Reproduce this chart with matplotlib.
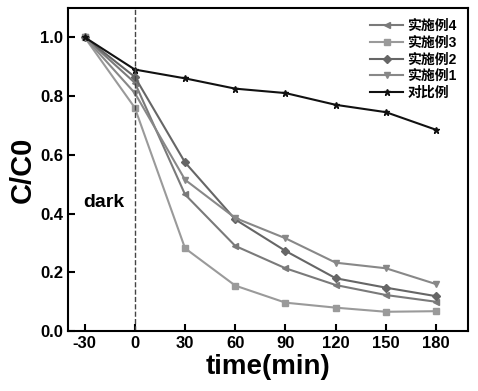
import matplotlib
matplotlib.use("Agg")
import matplotlib.pyplot as plt

plt.rcParams['font.family'] = ['Liberation Sans', 'Noto Sans CJK SC', 'DejaVu Sans']
plt.rcParams['font.weight'] = 'bold'
plt.rcParams['axes.unicode_minus'] = False

# 时间 (min)
t = [-30, 0, 30, 60, 90, 120, 150, 180]
# C/C0
ex4 = [1.0, 0.845, 0.465, 0.29, 0.214, 0.157, 0.123, 0.10]
ex3 = [1.0, 0.76, 0.282, 0.155, 0.097, 0.08, 0.066, 0.068]
ex2 = [1.0, 0.865, 0.574, 0.38, 0.273, 0.18, 0.148, 0.119]
ex1 = [1.0, 0.81, 0.515, 0.385, 0.316, 0.233, 0.214, 0.16]
ctrl = [1.0, 0.89, 0.86, 0.825, 0.81, 0.77, 0.745, 0.685]

fig = plt.figure(figsize=(4.78, 3.91), dpi=100)
ax = fig.add_axes([0.142, 0.153, 0.837, 0.827])

ax.plot(t, ex4, '-', marker='<', color='#7a7a7a', ms=5, lw=1.5, label='实施例4')
ax.plot(t, ex3, '-', marker='s', color='#9a9a9a', ms=5, lw=1.5, label='实施例3')
ax.plot(t, ex2, '-', marker='D', color='#666666', ms=4.5, lw=1.5, label='实施例2')
ax.plot(t, ex1, '-', marker='v', color='#888888', ms=5, lw=1.5, label='实施例1')
ax.plot(t, ctrl, '-', marker='*', color='#111111', ms=5, lw=1.5, label='对比例')

ax.axvline(0, color='#444444', ls='--', lw=1)
ax.text(-31, 0.437, 'dark', fontsize=14, fontweight='bold', va='center')

ax.set_xlim(-40, 199)
ax.set_ylim(0, 1.1)
ax.set_xticks(t)
ax.set_yticks([0.0, 0.2, 0.4, 0.6, 0.8, 1.0])
ax.tick_params(direction='in', labelsize=12, width=1.5, length=5)
for lab in ax.get_xticklabels() + ax.get_yticklabels():
    lab.set_fontweight('bold')
for s in ax.spines.values():
    s.set_linewidth(1.5)

ax.set_xlabel('time(min)', fontsize=20, fontweight='bold', labelpad=2)
ax.set_ylabel('C/C0', fontsize=21, fontweight='bold', labelpad=2)

ax.legend(loc='upper right', frameon=False, fontsize=10, handlelength=2.4,
          labelspacing=0.2, borderaxespad=0.4, handletextpad=0.3)

fig.savefig('out.png', dpi=100)
